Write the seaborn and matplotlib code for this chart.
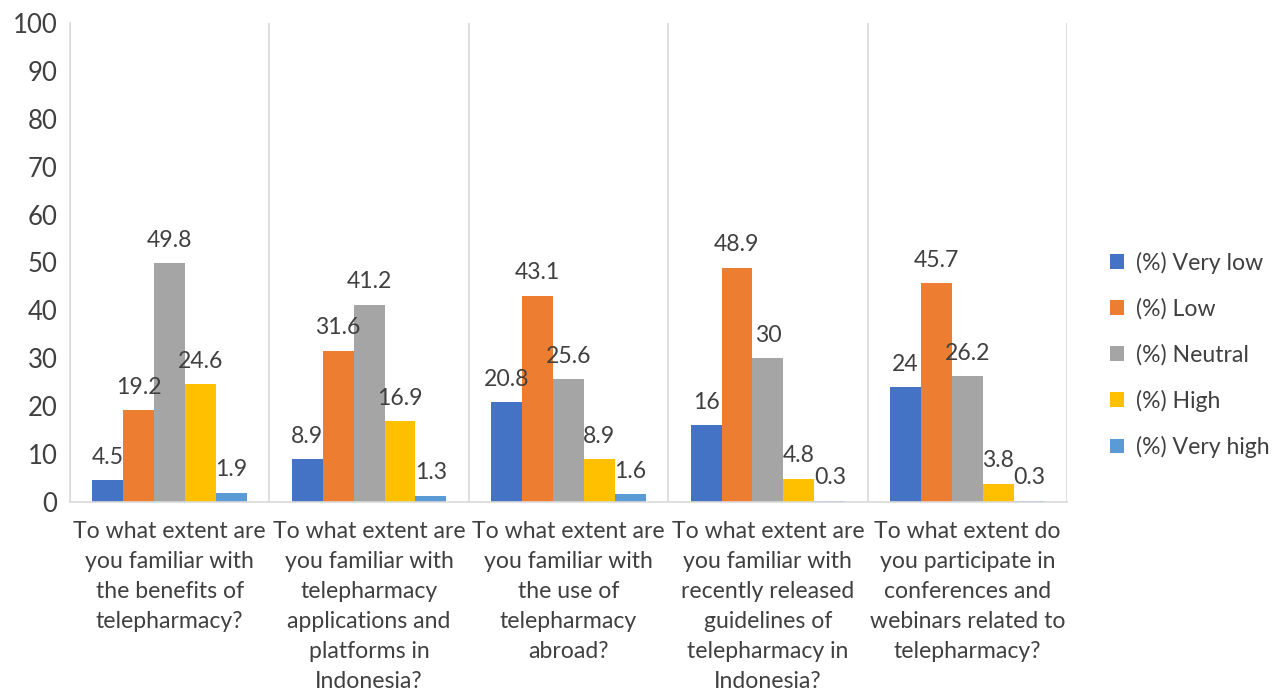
import matplotlib
matplotlib.use("Agg")
import matplotlib.pyplot as plt
import seaborn as sns
import pandas as pd
import numpy as np
from matplotlib.ticker import FixedLocator

categories = [
    "To what extent are\nyou familiar with\nthe benefits of\ntelepharmacy?",
    "To what extent are\nyou familiar with\ntelepharmacy\napplications and\nplatforms in\nIndonesia?",
    "To what extent are\nyou familiar with\nthe use of\ntelepharmacy\nabroad?",
    "To what extent are\nyou familiar with\nrecently released\nguidelines of\ntelepharmacy in\nIndonesia?",
    "To what extent do\nyou participate in\nconferences and\nwebinars related to\ntelepharmacy?",
]
series = ["(%) Very low", "(%) Low", "(%) Neutral", "(%) High", "(%) Very high"]
very_low = [4.5, 8.9, 20.8, 16, 24]
low = [19.2, 31.6, 43.1, 48.9, 45.7]
neutral = [49.8, 41.2, 25.6, 30, 26.2]
high = [24.6, 16.9, 8.9, 4.8, 3.8]
very_high = [1.9, 1.3, 1.6, 0.3, 0.3]
colors = ["#4472C4", "#ED7D31", "#A5A5A5", "#FFC000", "#5B9BD5"]

values = [very_low, low, neutral, high, very_high]
df = pd.DataFrame({
    "Question": categories * len(series),
    "Series": [s for s in series for _ in categories],
    "Value": [v for vals in values for v in vals],
})

sns.set_theme(style="white")
plt.rcParams["font.family"] = ["Lato", "DejaVu Sans"]
text_color = "#404040"
fs = 16.6

fig = plt.figure(figsize=(12.77, 6.94), dpi=100)
ax = fig.add_axes([0.0548, 0.2767, 0.7808, 0.6902])

sns.barplot(data=df, x="Question", y="Value", hue="Series", order=categories,
            hue_order=series, palette=colors, width=0.775, saturation=1,
            edgecolor="none", linewidth=0, ax=ax)

for cont in ax.containers:
    labels = [f"{v:g}" for v in cont.datavalues]
    ax.bar_label(cont, labels=labels, padding=9, fontsize=fs, color=text_color)

ax.set_ylim(0, 100)
ax.set_yticks(np.arange(0, 101, 10))
ax.set_xlim(-0.5, len(categories) - 0.5)
ax.xaxis.set_minor_locator(FixedLocator(np.arange(-0.5, len(categories), 1.0)))
ax.grid(True, which="minor", axis="x", color="#d9d9d9", linewidth=1.2)
ax.grid(False, which="major")
ax.tick_params(axis="both", which="both", length=0, labelsize=fs, colors=text_color)
ax.tick_params(axis="y", pad=9, labelsize=18.5)
ax.tick_params(axis="x", pad=14)
ax.set_xlabel("")
ax.set_ylabel("")
for side in ["top", "right"]:
    ax.spines[side].set_visible(False)
for side in ["left", "bottom"]:
    ax.spines[side].set_color("#d9d9d9")
    ax.spines[side].set_linewidth(1.2)
for lab in ax.get_xticklabels():
    lab.set_linespacing(1.52)

handles, labs = ax.get_legend_handles_labels()
ax.legend(handles, labs, loc="center left", bbox_to_anchor=(1.022, 0.307), frameon=False,
          fontsize=fs, labelcolor=text_color, handlelength=0.6, handleheight=0.6,
          labelspacing=1.05, handletextpad=0.55)

fig.savefig("out.png", dpi=100)
